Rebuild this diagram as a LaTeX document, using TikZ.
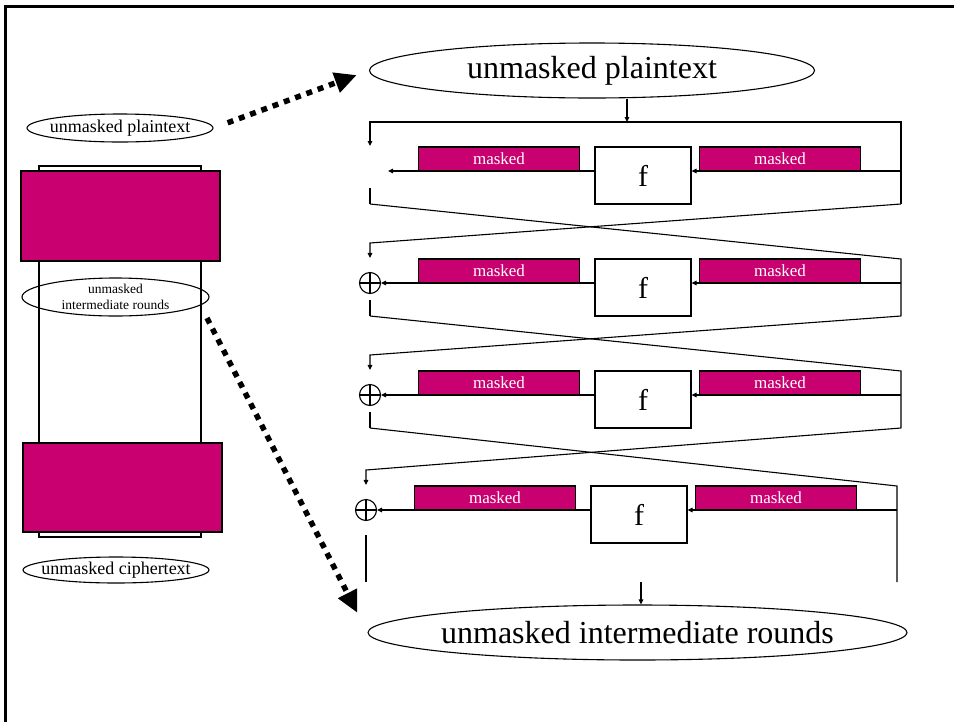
\documentclass[tikz,border=0pt]{standalone}
\usepackage{fontspec}
\setmainfont{Liberation Serif}
\usetikzlibrary{arrows.meta,shapes.geometric}
\definecolor{plum}{RGB}{200,0,112}
\begin{document}
\begin{tikzpicture}[x=1pt,y=-1pt,
  wire/.style={line width=1.1pt},
  flow/.style={wire,-{Triangle[length=5pt,width=4.5pt]}},
  maskbox/.style={draw,line width=1.1pt,fill=plum,text=white,minimum width=161pt,
    minimum height=24pt,inner sep=0pt,font=\fontsize{17}{17}\selectfont},
  roundfn/.style={draw,line width=1.1pt,fill=white,minimum width=96pt,
    minimum height=57pt,inner sep=0pt,font=\fontsize{30}{30}\selectfont},
  xorsym/.style={circle,draw,line width=1.1pt,minimum size=21pt,inner sep=0pt,
    path picture={\draw[line width=1.1pt]
      (path picture bounding box.north) -- (path picture bounding box.south)
      (path picture bounding box.west) -- (path picture bounding box.east);}},
  tag/.style={ellipse,draw,line width=1.1pt,inner sep=0pt},
  tagtext/.style={inner sep=0pt,align=center},
  block/.style={draw,line width=1.1pt,inner sep=0pt},
  hint/.style={line width=5.5pt,dash pattern=on 6pt off 6pt,
    -{Triangle[length=22pt,width=20pt]}}
]
\useasboundingbox (0,0) rectangle (954,721);

% slide frame
\draw[line width=3pt] (5.5,730) -- (5.5,6.5) -- (965,6.5);

% ---------- left: cipher as a stack ----------
\node[block,fill=white,minimum width=162pt,minimum height=371pt] (stack) at (120,351.5) {};
\node[block,fill=plum,minimum width=199pt,minimum height=90pt] (topmask) at (120.5,216) {};
\node[block,fill=plum,minimum width=199pt,minimum height=89pt] (botmask) at (122.5,487.5) {};
\node[tag,minimum width=186pt,minimum height=28pt] (ptsmall) at (120,128) {};
\node[tagtext,font=\fontsize{18}{18}\selectfont] at (ptsmall) {unmasked plaintext};
\node[tag,minimum width=187pt,minimum height=38pt] (midsmall) at (115.5,297) {};
\node[tagtext,font=\fontsize{13.5}{16.5}\selectfont] at (midsmall) {unmasked\\intermediate rounds};
\node[tag,minimum width=186pt,minimum height=26pt] (ctsmall) at (116,570) {};
\node[tagtext,font=\fontsize{18}{18}\selectfont] at (ctsmall) {unmasked ciphertext};

% ---------- right: Feistel rounds ----------
\node[tag,minimum width=445pt,minimum height=55pt] (ptbig) at (592,70.5) {};
\node[tagtext,font=\fontsize{32}{32}\selectfont] at (ptbig) {unmasked plaintext};
\node[tag,minimum width=539pt,minimum height=55pt] (irbig) at (637.5,632.5) {};
\node[tagtext,font=\fontsize{32}{32}\selectfont] at (irbig) {unmasked intermediate rounds};

% round 1
\node[maskbox] (lm1) at (499,159) {masked};
\node[roundfn] (f1) at (643,175.5) {f};
\node[maskbox] (rm1) at (780,159) {masked};
% round 2
\node[maskbox] (lm2) at (499,271) {masked};
\node[roundfn] (f2) at (643,287.5) {f};
\node[maskbox] (rm2) at (780,271) {masked};
\node[xorsym] (xor2) at (370,283) {};
% round 3
\node[maskbox] (lm3) at (499,383) {masked};
\node[roundfn] (f3) at (643,399.5) {f};
\node[maskbox] (rm3) at (780,383) {masked};
\node[xorsym] (xor3) at (370,395) {};
% round 4
\node[maskbox] (lm4) at (495,498) {masked};
\node[roundfn] (f4) at (639,514.5) {f};
\node[maskbox] (rm4) at (776,498) {masked};
\node[xorsym] (xor4) at (366,510) {};

% wiring points
\coordinate (intop) at (627,122);
\coordinate (r1top) at (901,122);
\coordinate (l1top) at (370,122);
\coordinate (l1tip) at (370,146);
\coordinate (r1in)  at (901,171);
\coordinate (r1bot) at (901,204);
\coordinate (l1out) at (388,171);
\coordinate (l1low) at (370,188);
\coordinate (l1bot) at (370,204);

\coordinate (r2top) at (901,259);
\coordinate (r2in)  at (901,283);
\coordinate (r2bot) at (901,316);
\coordinate (l2top) at (370,243);
\coordinate (l2bot) at (370,316);

\coordinate (r3top) at (901,371);
\coordinate (r3in)  at (901,395);
\coordinate (r3bot) at (901,428);
\coordinate (l3top) at (370,355);
\coordinate (l3bot) at (370,428);

\coordinate (r4top) at (897,486);
\coordinate (r4in)  at (897,510);
\coordinate (r4bot) at (897,582);
\coordinate (l4top) at (366,470);
\coordinate (l4bot) at (366,582);
\coordinate (outtop) at (641,582);

% input into the first round
\draw[flow] (intop |- ptbig.south) -- (intop);
\draw[flow] (r1bot) -- (r1top) -- (l1top) -- (l1tip);
\draw[flow] (r1in) -- (r1in -| f1.east);
\draw[flow] (l1out -| f1.west) -- (l1out);
\draw[wire] (l1low) -- (l1bot);

% swap 1 -> 2
\draw[wire] (l1bot) -- (r2top) -- (r2bot);
\draw[flow] (r1bot) -- (l2top) -- ([yshift=14pt]xor2.north);
\draw[flow] (r2in) -- (r2in -| f2.east);
\draw[flow] (xor2 -| f2.west) -- (xor2.east);
\draw[wire,shorten <=6pt] (xor2.south) -- (l2bot);

% swap 2 -> 3
\draw[wire] (l2bot) -- (r3top) -- (r3bot);
\draw[flow] (r2bot) -- (l3top) -- ([yshift=14pt]xor3.north);
\draw[flow] (r3in) -- (r3in -| f3.east);
\draw[flow] (xor3 -| f3.west) -- (xor3.east);
\draw[wire,shorten <=6pt] (xor3.south) -- (l3bot);

% swap 3 -> 4
\draw[wire] (l3bot) -- (r4top) -- (r4bot);
\draw[flow] (r3bot) -- (l4top) -- ([yshift=14pt]xor4.north);
\draw[flow] (r4in) -- (r4in -| f4.east);
\draw[flow] (xor4 -| f4.west) -- (xor4.east);
\draw[wire,shorten <=14pt] (xor4.south) -- (l4bot);

% output
\draw[flow] (outtop) -- (outtop |- irbig.north);

% zoom-in hints
\draw[hint,shorten <=15pt,shorten >=13pt] (ptsmall.east) -- (ptbig.west);
\coordinate (midexit) at (207,318);
\draw[hint,shorten >=22pt] (midexit) -- (irbig.west);
\end{tikzpicture}
\end{document}
